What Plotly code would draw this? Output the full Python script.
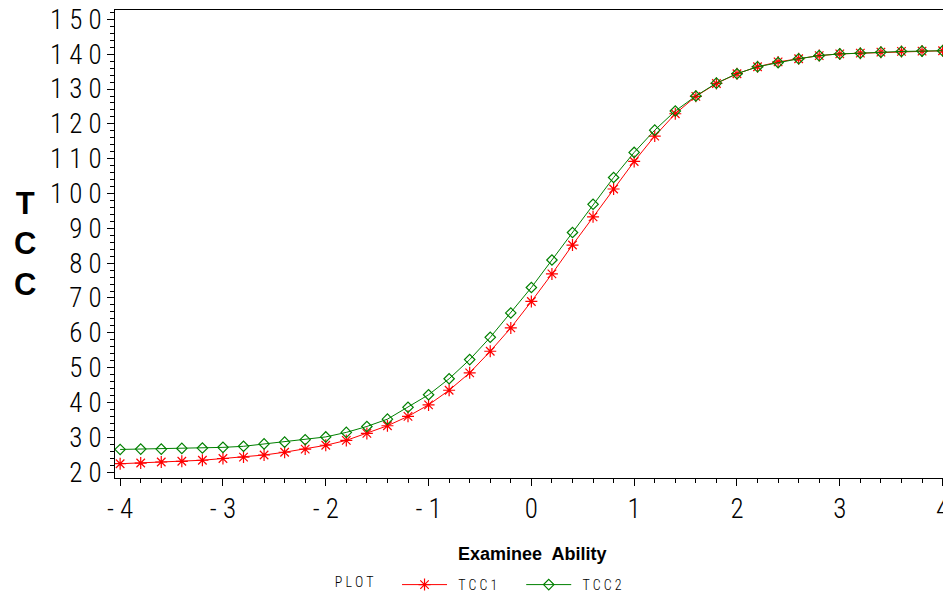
import plotly.graph_objects as go

# ---- data ----
ability = [-4.0, -3.8, -3.6, -3.4, -3.2, -3.0, -2.8, -2.6, -2.4, -2.2, -2.0,
           -1.8, -1.6, -1.4, -1.2, -1.0, -0.8, -0.6, -0.4, -0.2, 0.0,
           0.2, 0.4, 0.6, 0.8, 1.0, 1.2, 1.4, 1.6, 1.8, 2.0,
           2.2, 2.4, 2.6, 2.8, 3.0, 3.2, 3.4, 3.6, 3.8, 4.0]
tcc1 = [22.4, 22.6, 22.9, 23.1, 23.4, 23.9, 24.3, 24.9, 25.7, 26.6, 27.7,
        29.1, 31.1, 33.3, 36.0, 39.3, 43.5, 48.5, 54.7, 61.4, 69.0,
        76.9, 85.2, 93.3, 101.3, 109.2, 116.5, 122.9, 127.9, 131.6, 134.4,
        136.4, 137.8, 138.7, 139.6, 140.1, 140.3, 140.6, 140.8, 140.9, 141.0]
tcc2 = [26.5, 26.6, 26.6, 26.8, 26.9, 27.1, 27.4, 28.1, 28.6, 29.3, 30.1,
        31.4, 33.1, 35.2, 38.6, 42.2, 46.8, 52.3, 58.7, 65.7, 73.0,
        80.9, 88.8, 96.9, 104.6, 111.8, 118.2, 123.7, 128.0, 131.7, 134.4,
        136.4, 137.6, 138.7, 139.6, 140.1, 140.3, 140.6, 140.8, 140.9, 141.0]

x_tick_vals = [-4, -3, -2, -1, 0, 1, 2, 3, 4]
x_tick_text = ["- 4", "- 3", "- 2", "- 1", "0", "1", "2", "3", "4"]
y_tick_vals = [20, 30, 40, 50, 60, 70, 80, 90, 100, 110, 120, 130, 140, 150]
y_tick_text = ["2 0", "3 0", "4 0", "5 0", "6 0", "7 0", "8 0", "9 0",
               "1 0 0", "1 1 0", "1 2 0", "1 3 0", "1 4 0", "1 5 0"]

NARROW = "Roboto Condensed, Liberation Sans Narrow, DejaVu Sans Condensed, Roboto, sans-serif"
TICK_FONT = dict(family=NARROW, size=27, color="black", weight=300)

fig = go.Figure()
fig.add_trace(go.Scatter(
    x=ability, y=tcc1, name="\u2002T C C 1\u2002\u2002\u2002", mode="lines+markers",
    line=dict(color="#ff0000", width=1),
    marker=dict(symbol="asterisk-open", size=10, color="#ff0000",
                line=dict(color="#ff0000", width=1.2)),
))
fig.add_trace(go.Scatter(
    x=ability, y=tcc2, name="\u2002T C C 2", mode="lines+markers",
    line=dict(color="#008000", width=1),
    marker=dict(symbol="diamond-open", size=8, color="#008000",
                line=dict(color="#008000", width=1.2)),
))

fig.update_layout(
    width=943, height=601,
    margin=dict(l=115, r=0, t=10, b=120),
    paper_bgcolor="white", plot_bgcolor="white",
    showlegend=True,
    legend=dict(
        orientation="h", x=0.263, y=-0.229, xanchor="left", yanchor="middle",
        title=dict(text="P L O T     ", font=dict(size=14, family=NARROW, weight=300)),
        font=dict(size=14, family=NARROW, color="black", weight=300),
        itemwidth=45, bgcolor="rgba(0,0,0,0)",
    ),
    xaxis=dict(
        range=[-4.05, 4.004], showgrid=False, zeroline=False,
        showline=True, linecolor="black", linewidth=1, mirror=True,
        ticks="outside", ticklen=7, tickwidth=1, tickcolor="black",
        tickvals=x_tick_vals, ticktext=x_tick_text, tickfont=TICK_FONT,
        ticklabeloverflow="allow",
        minor=dict(dtick=0.2, ticks="outside", ticklen=4, tickcolor="black", tickwidth=1),
        automargin=False,
    ),
    yaxis=dict(
        range=[18.3, 152.7], showgrid=False, zeroline=False,
        showline=True, linecolor="black", linewidth=1, mirror=True,
        ticks="outside", ticklen=7, tickwidth=1, tickcolor="black",
        tickvals=y_tick_vals, ticktext=y_tick_text, tickfont=TICK_FONT,
        minor=dict(dtick=2, ticks="outside", ticklen=4, tickcolor="black", tickwidth=1),
        automargin=False,
    ),
    annotations=[
        dict(text="<b>T<br>C<br>C</b>", xref="paper", yref="paper",
             x=-0.109, y=0.5, xanchor="center", yanchor="middle", showarrow=False,
             font=dict(family="Liberation Sans, Arial, sans-serif", size=31, color="black")),
        dict(text="<b>Examinee  Ability</b>", xref="paper", yref="paper",
             x=0.504, y=-0.163, xanchor="center", yanchor="middle", showarrow=False,
             font=dict(family="Liberation Sans, Arial, sans-serif", size=18, color="black")),
    ],
)

fig.write_html("out.html")
